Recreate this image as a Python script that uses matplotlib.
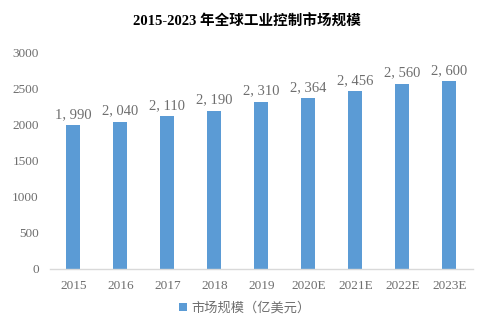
import matplotlib
matplotlib.use("Agg")
import matplotlib.pyplot as plt

categories = ["2015", "2016", "2017", "2018", "2019", "2020E", "2021E", "2022E", "2023E"]
values = [1990, 2040, 2110, 2190, 2310, 2364, 2456, 2560, 2600]
yticks = [0, 500, 1000, 1500, 2000, 2500, 3000]
title = "2015-2023 年全球工业控制市场规模"
series_name = "市场规模（亿美元）"

plt.rcParams['font.family'] = ['Liberation Serif', 'Noto Sans CJK SC', 'DejaVu Sans']

fig = plt.figure(figsize=(4.85, 3.26), dpi=100)
ax = fig.add_axes([0.103, 0.175, 0.872, 0.665])
color = "#5B9BD5"
gray = "#6E6E6E"
x = list(range(len(categories)))
bars = ax.bar(x, values, width=0.3, color=color, label=series_name)
for xi, v in zip(x, values):
    ax.text(xi, v + 60, f"{v:,}".replace(",", ", "), ha="center", va="bottom",
            fontsize=10.5, color=gray)
ax.set_xlim(-0.5, len(categories) - 0.5)
ax.set_ylim(0, 3000)
ax.set_yticks(yticks)
ax.set_yticklabels([str(t) for t in yticks])
ax.set_xticks(x)
ax.set_xticklabels(categories)
ax.tick_params(axis="both", length=0, labelsize=9.5, colors=gray, pad=8)
for s in ["top", "right", "left"]:
    ax.spines[s].set_visible(False)
ax.spines["bottom"].set_color("#D9D9D9")
ax.spines["bottom"].set_linewidth(1)

fig.text(0.51, 0.935, title, ha="center", va="center", fontsize=10.5, fontweight="bold",
         family=['Liberation Serif', 'Noto Sans CJK SC'], color="black")

leg = fig.legend(handles=[bars], labels=[series_name], loc="center", bbox_to_anchor=(0.505, 0.055),
                 frameon=False, handlelength=0.6, handleheight=0.6, handletextpad=0.3,
                 prop={'family': ['Noto Sans CJK SC'], 'size': 9.5})
for t in leg.get_texts():
    t.set_color(gray)

fig.savefig("out.png", dpi=100)
